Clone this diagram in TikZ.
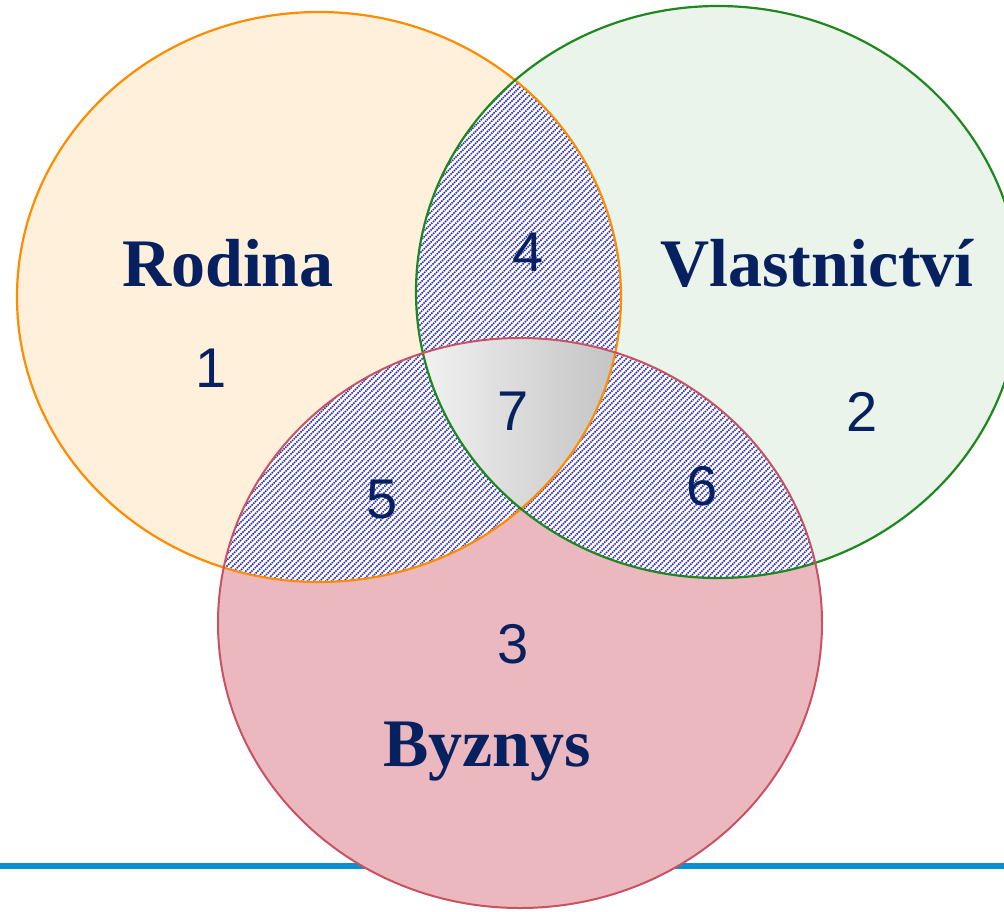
\documentclass[tikz,border=0pt]{standalone}
\usepackage{fontspec}
\setmainfont{Liberation Serif}
\newfontfamily\digitfont{Liberation Sans}
\definecolor{navy}{RGB}{6,32,96}
\definecolor{orfill}{RGB}{255,240,219}
\definecolor{orline}{RGB}{255,140,0}
\definecolor{grfill}{RGB}{234,244,234}
\definecolor{grline}{RGB}{30,135,30}
\definecolor{pkfill}{RGB}{236,184,192}
\definecolor{pkline}{RGB}{200,82,98}
\definecolor{hatchblue}{RGB}{40,40,185}
\definecolor{rulecolor}{RGB}{10,144,208}
\tikzset{
  setlabel/.style={font=\fontsize{68}{68}\selectfont\bfseries, text=navy, anchor=base, inner sep=0pt},
  numlabel/.style={font=\digitfont\fontsize{56}{56}\selectfont, text=navy, anchor=base, inner sep=0pt},
  hatchline/.style={hatchblue, line width=1.5pt, dash pattern=on 1.5pt off 0.9pt},
}
\newcommand{\ellA}{(319,297) ellipse [x radius=302pt, y radius=285pt]}
\newcommand{\ellB}{(718,292) ellipse [x radius=302pt, y radius=286pt]}
\newcommand{\ellC}{(520,623) ellipse [x radius=302pt, y radius=285pt]}
\newcommand{\hatchlines}{%
  \fill[white] (0,0) rectangle (1004,911);
  \foreach \k in {-1000,-994,...,1010} {\draw[hatchline] (\k,911) -- (\k+911,0);}%
}
\begin{document}
\begin{tikzpicture}[x=1pt,y=-1pt]
\useasboundingbox (0,0) rectangle (1004,911);
\clip (0,0) rectangle (1004,911);
% bottom rule
\draw[rulecolor, line width=6pt] (0,866) coordinate (L) -- (1004,866) coordinate (R);
% fills
\fill[orfill] \ellA;
\fill[grfill] \ellB;
\fill[pkfill] \ellC;
% pairwise intersections (hatched)
\begin{scope}
  \clip \ellA; \clip \ellB; \hatchlines
\end{scope}
\begin{scope}
  \clip \ellA; \clip \ellC; \hatchlines
\end{scope}
\begin{scope}
  \clip \ellB; \clip \ellC; \hatchlines
\end{scope}
% triple intersection
\begin{scope}
  \clip \ellA; \clip \ellB; \clip \ellC;
  \shade[left color=black!5, right color=black!24] (415,330) rectangle (625,520);
\end{scope}
% outlines
\draw[orline, line width=2.2pt] \ellA;
\draw[grline, line width=2.2pt] \ellB;
\draw[pkline, line width=2pt] \ellC;
% labels
\node[setlabel] (rodina) at (228,286) {Rodina};
\node[setlabel] (vlast) at (817,286) {Vlastnictví};
\node[setlabel] (byznys) at (487,766) {Byznys};
\node[numlabel] (n1) at (211,387) {1};
\node[numlabel] (n2) at (862,431) {2};
\node[numlabel] (n3) at (513,663) {3};
\node[numlabel] (n4) at (528,271) {4};
\node[numlabel] (n5) at (382,518) {5};
\node[numlabel] (n6) at (702,505) {6};
\node[numlabel] (n7) at (513,430) {7};
\end{tikzpicture}
\end{document}
